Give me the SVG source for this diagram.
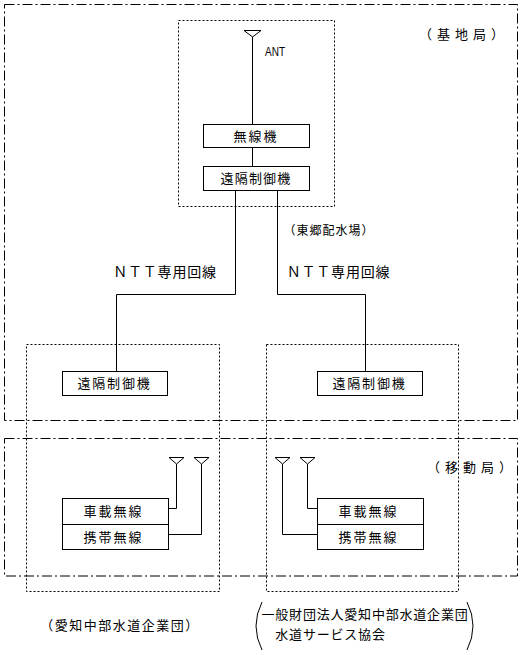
<svg xmlns="http://www.w3.org/2000/svg" width="526" height="655" viewBox="0 0 526 655">
<style>
.dd{fill:none;stroke:#000;stroke-width:1;stroke-dasharray:10,3,2,3}
.dot{fill:none;stroke:#000;stroke-width:1;stroke-dasharray:2,2}
.box{fill:#fff;stroke:#000;stroke-width:1}
.ln{fill:none;stroke:#000;stroke-width:1}
.ant{fill:#fff;stroke:#000;stroke-width:1}
text{font-family:"Noto Sans CJK JP","Noto Sans",sans-serif;fill:#000}
.t13{font-size:13px;text-anchor:middle}
</style>
<rect width="526" height="655" fill="#fff"/>
<g id="base-station-area">
<rect class="dd" x="4.5" y="4.5" width="513" height="416"/>
<text x="464" y="38.5" class="t13" letter-spacing="5">（基地局）</text>
</g>
<g id="mobile-area">
<rect class="dd" x="4.5" y="438.5" width="513" height="137.5"/>
<text x="472" y="471.5" class="t13" letter-spacing="5">（移動局）</text>
</g>
<g id="togo-site">
<rect class="dot" x="178.5" y="20.5" width="156" height="186"/>
<text x="329" y="234.5" style="font-size:12px;text-anchor:middle" letter-spacing="1">（東郷配水場）</text>
</g>
<g id="left-site">
<rect class="dot" x="26.5" y="344.5" width="193" height="247"/>
<text x="120" y="630" class="t13" letter-spacing="1.5">（愛知中部水道企業団）</text>
</g>
<g id="right-site">
<rect class="dot" x="266.5" y="344.5" width="192" height="247"/>
<path class="ln" d="M262 602 Q250 626 262 650"/>
<path class="ln" d="M467 602 Q479 626 467 650"/>
<text x="365" y="618.5" class="t13" letter-spacing="0.8">一般財団法人愛知中部水道企業団</text>
<text x="330.5" y="639" class="t13" letter-spacing="0.8">水道サービス協会</text>
</g>
<g id="connectors">
<path class="ln" d="M252.5 30.5 V124.5"/>
<path class="ln" d="M252.5 147.5 V166.5"/>
<path class="ln" d="M235.5 190.5 V294.5 H116.5 V371.5"/>
<path class="ln" d="M277.5 190.5 V294.5 H365.5 V371.5"/>
<path class="ln" d="M176.5 464 V508.5 H168.5"/>
<path class="ln" d="M201.5 464 V534.5 H168.5"/>
<path class="ln" d="M282.5 464 V534.5 H317.5"/>
<path class="ln" d="M307.5 464 V508.5 H317.5"/>
<text x="165" y="277" style="font-size:14px;text-anchor:middle" letter-spacing="0.8">ＮＴＴ専用回線</text>
<text x="338.5" y="277" style="font-size:14px;text-anchor:middle" letter-spacing="0.8">ＮＴＴ専用回線</text>
</g>
<g id="ant-top">
<path class="ant" d="M244 30.5 H261 L252.5 37 Z"/>
<text x="265" y="55.5" style="font-family:'Liberation Sans',sans-serif;font-size:12.5px" textLength="20" lengthAdjust="spacingAndGlyphs">ANT</text>
</g>
<g id="radio-top">
<rect class="box" x="203.5" y="124.5" width="106" height="23"/>
<text x="256" y="140.5" class="t13" letter-spacing="2">無線機</text>
</g>
<g id="remote-top">
<rect class="box" x="203.5" y="166.5" width="106" height="24"/>
<text x="256" y="183" class="t13" letter-spacing="1.2">遠隔制御機</text>
</g>
<g id="remote-left">
<rect class="box" x="62.5" y="371.5" width="105" height="24"/>
<text x="114.5" y="388" class="t13" letter-spacing="1.8">遠隔制御機</text>
</g>
<g id="remote-right">
<rect class="box" x="317.5" y="371.5" width="105" height="24"/>
<text x="369.5" y="388" class="t13" letter-spacing="1.8">遠隔制御機</text>
</g>
<g id="ant-left">
<path class="ant" d="M169 457.5 H184 L176.5 464 Z"/>
<path class="ant" d="M194 457.5 H209 L201.5 464 Z"/>
</g>
<g id="ant-right">
<path class="ant" d="M275 457.5 H290 L282.5 464 Z"/>
<path class="ant" d="M300 457.5 H315 L307.5 464 Z"/>
</g>
<g id="mobile-left">
<rect class="box" x="62.5" y="498.5" width="106" height="51"/>
<path class="ln" d="M62.5 524.5 H168.5"/>
<text x="113.5" y="516" class="t13" letter-spacing="2">車載無線</text>
<text x="113.5" y="542" class="t13" letter-spacing="2">携帯無線</text>
</g>
<g id="mobile-right">
<rect class="box" x="317.5" y="498.5" width="106" height="51"/>
<path class="ln" d="M317.5 524.5 H423.5"/>
<text x="368.5" y="516" class="t13" letter-spacing="2">車載無線</text>
<text x="368.5" y="542" class="t13" letter-spacing="2">携帯無線</text>
</g>
</svg>
